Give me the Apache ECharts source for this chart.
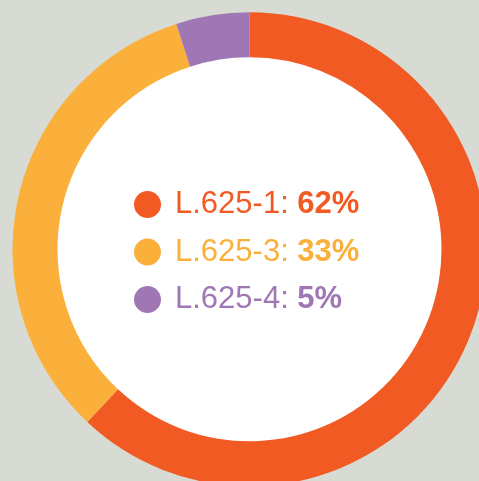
<!DOCTYPE html>
<html lang="en">

<head>
    <meta charset="UTF-8">
    <title>L.625</title>
    <script src="https://cdn.jsdelivr.net/npm/echarts@6/dist/echarts.min.js"></script>
    <style>
        body,
        html {
            background-color: #d8dbd3;
            width: 100%;
            height: 100%;
            margin: 0;
        }
    </style>
</head>

<body>
    <div id="chart" style="width: 479px; height: 481px;"></div>
    <script>
        var names = ['L.625-1', 'L.625-3', 'L.625-4'];
        var values = [62, 33, 5];
        var colors = ['#f15a22', '#fbb03b', '#a077b5'];

        var font = "'Liberation Sans', Arial, sans-serif";
        var rich = {};
        names.forEach(function (n, i) {
            rich['n' + i] = { color: colors[i], fontSize: 31, lineHeight: 27, fontFamily: font, padding: [0, 0, 0, 9] };
            rich['p' + i] = { color: colors[i], fontSize: 31, lineHeight: 27, fontFamily: font, fontWeight: 'bold' };
        });

        var option = {
            backgroundColor: '#d8dbd3',
            animation: false,
            legend: {
                orient: 'vertical',
                left: 129,
                top: 184,
                icon: 'circle',
                itemWidth: 27,
                itemHeight: 27,
                itemGap: 16.5,
                selectedMode: false,
                data: names,
                formatter: function (name) {
                    var i = names.indexOf(name);
                    return '{n' + i + '|' + name + ': }{p' + i + '|' + values[i] + '%}';
                },
                textStyle: { rich: rich, lineHeight: 27 }
            },
            series: [
                {
                    // white inner disc
                    type: 'pie',
                    silent: true,
                    center: [249.5, 249.3],
                    radius: [0, 193],
                    label: { show: false },
                    itemStyle: { color: '#ffffff' },
                    data: [{ name: 'bg', value: 1 }]
                },
                {
                    type: 'pie',
                    center: [249.5, 249.3],
                    radius: [192, 237],
                    startAngle: 90,
                    clockwise: true,
                    label: { show: false },
                    labelLine: { show: false },
                    data: names.map(function (n, i) {
                        return { name: n, value: values[i], itemStyle: { color: colors[i] } };
                    })
                }
            ]
        };
        var myChart = echarts.init(document.getElementById('chart'));
        myChart.setOption(option);
    </script>
</body>

</html>
